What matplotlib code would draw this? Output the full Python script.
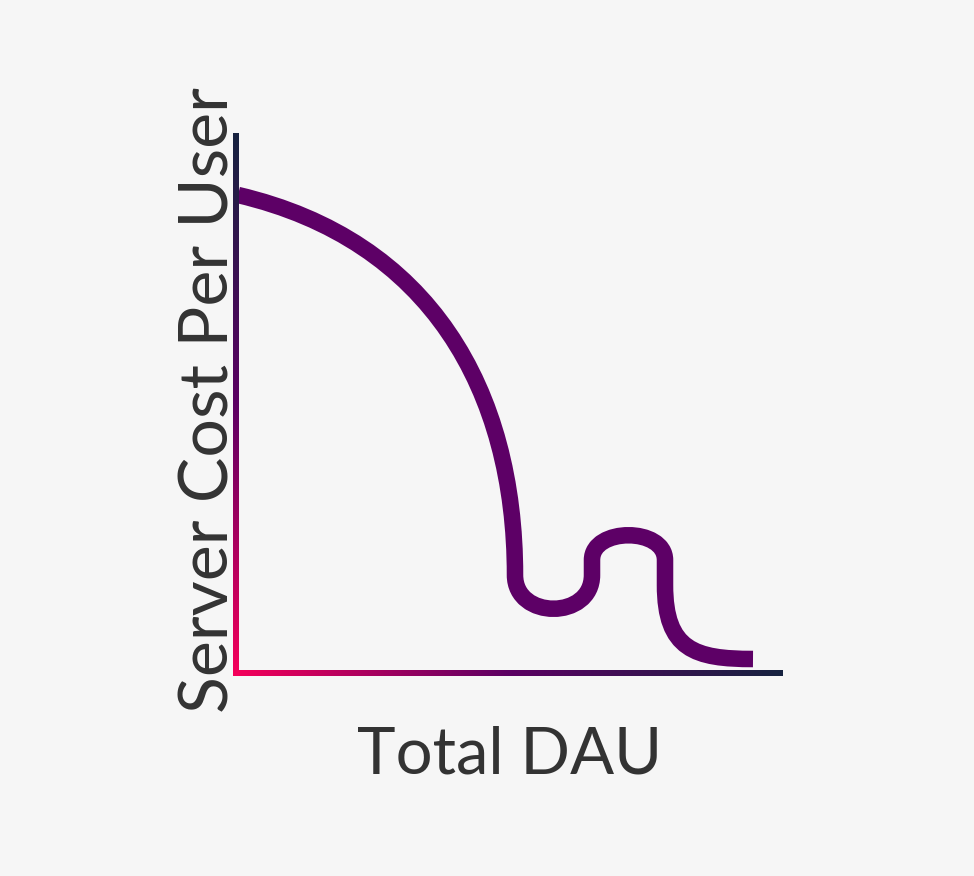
import numpy as np
import matplotlib.pyplot as plt
from matplotlib.path import Path
from matplotlib.patches import PathPatch
from matplotlib.colors import LinearSegmentedColormap

# chart units: origin at the axis corner, y up
x_max = 547
y_max = 540

# curve: cubic bezier control points (x, y) and path codes
curve_pts = [
    (2, 478), (194, 433), (279, 283), (279, 98),
    (279, 53), (356, 53), (356, 98),
    (356, 113),
    (356, 146), (429, 146), (429, 113),
    (429, 88),
    (429, 23), (459, 14), (517, 14),
]
curve_codes = ['M', 'C', 'C', 'C', 'C', 'C', 'C', 'L', 'C', 'C', 'C', 'L', 'C', 'C', 'C']

x_label = 'Total DAU'
y_label = 'Server Cost Per User'

bg = '#f6f6f6'
curve_color = '#5d0066'
text_color = '#333333'
axis_cmap = LinearSegmentedColormap.from_list('axis', ['#f5005a', '#5c0063', '#172340'])

fig = plt.figure(figsize=(9.74, 8.76), dpi=100, facecolor=bg)
ax = fig.add_axes([0, 0, 1, 1])
ax.set_facecolor(bg)
ax.axis('off')

# gradient axis lines (thin gradient images)
hw = 2.6
grad = np.linspace(0, 1, 256)
ax.imshow(grad[np.newaxis, :], cmap=axis_cmap, aspect='auto',
          extent=(-hw, x_max, -hw, hw), interpolation='bilinear', zorder=2)
ax.imshow(grad[:, np.newaxis], cmap=axis_cmap, aspect='auto', origin='lower',
          extent=(-hw, hw, -hw, y_max), interpolation='bilinear', zorder=2)

code_map = {'M': Path.MOVETO, 'C': Path.CURVE4, 'L': Path.LINETO}
path = Path(curve_pts, [code_map[c] for c in curve_codes])
ax.add_patch(PathPatch(path, facecolor='none', edgecolor=curve_color,
                       lw=11.9, capstyle='butt', joinstyle='round', zorder=1))

ax.text(x_max / 2, -100, x_label, fontsize=47, family='Lato', color=text_color,
        ha='center', va='baseline')
ax.text(-7, 273, y_label, fontsize=49, family='Lato', color=text_color,
        rotation=90, ha='center', va='baseline', rotation_mode='anchor')

ax.set_xlim(-236, 974 - 236)
ax.set_ylim(673 - 876, 673)

fig.savefig('out.png', dpi=100, facecolor=bg)
